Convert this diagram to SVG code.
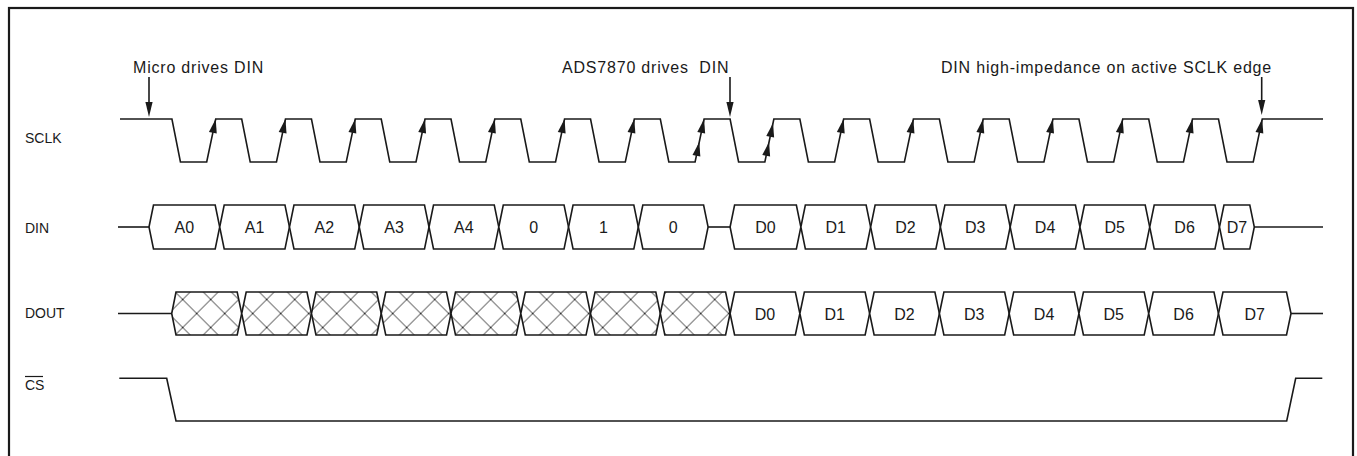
<svg xmlns="http://www.w3.org/2000/svg" xmlns:xlink="http://www.w3.org/1999/xlink" width="1357" height="456" viewBox="0 0 1357 456">
<style>
.w{fill:none;stroke:#1a1a1a;stroke-width:1.6;stroke-linejoin:miter}
.bx{fill:#fff;stroke:#1a1a1a;stroke-width:1.6}
.hx{fill:url(#hatch);stroke:#1a1a1a;stroke-width:1.6}
.ah{fill:#1a1a1a;stroke:none}
text{font-family:"Liberation Sans",Arial,Helvetica,sans-serif;font-size:16px;fill:#1a1a1a}
.c{text-anchor:middle}
.rl{font-size:14px}
.an{letter-spacing:0.8px}
</style>
<defs>
<pattern id="hatch" patternUnits="userSpaceOnUse" x="182.7" y="299.5" width="28" height="28">
<rect width="28" height="28" fill="#fff"/>
<path d="M0,0 L28,28 M28,0 L0,28" stroke="#333" stroke-width="1"/>
</pattern>
<path id="ahu" d="M0,0 L-4,14 L4,14 Z"/>
<path id="ahd" d="M0,0 L-3.6,-15 L3.6,-15 Z"/>
</defs>
<rect x="9" y="8" width="1344" height="460" fill="#fff" stroke="#1a1a1a" stroke-width="2.2"/>

<g id="labels">
<text class="rl" x="25" y="143">SCLK</text>
<text class="rl" x="25" y="233">DIN</text>
<text class="rl" x="25" y="318">DOUT</text>
<text class="rl" x="25" y="390">CS</text>
<line x1="25" y1="376.5" x2="43" y2="376.5" stroke="#1a1a1a" stroke-width="1.2"/>
</g>

<g id="annotations">
<text class="an" x="133" y="73">Micro drives DIN</text>
<text class="an" x="562" y="73" xml:space="preserve">ADS7870 drives  DIN</text>
<text class="an" x="941" y="73">DIN high-impedance on active SCLK edge</text>
<line class="w" x1="149" y1="77" x2="149" y2="104"/>
<use href="#ahd" class="ah" transform="translate(149,117)"/>
<line class="w" x1="730" y1="77" x2="730" y2="104"/>
<use href="#ahd" class="ah" transform="translate(730,117)"/>
<line class="w" x1="1261.7" y1="77" x2="1261.7" y2="102"/>
<use href="#ahd" class="ah" transform="translate(1261.7,115)"/>
</g>

<g id="sclk">
<path class="w" d="M120,119 L171.93,119 L180.43,162 L206.70,162 L215.70,119 L241.70,119 L250.20,162 L276.47,162 L285.47,119 L311.47,119 L319.97,162 L346.24,162 L355.24,119 L381.24,119 L389.74,162 L416.01,162 L425.01,119 L451.01,119 L459.51,162 L485.78,162 L494.78,119 L520.78,119 L529.28,162 L555.55,162 L564.55,119 L590.55,119 L599.05,162 L625.32,162 L634.32,119 L660.32,119 L668.82,162 L695.09,162 L704.09,119 L730.09,119 L738.59,162 L764.86,162 L773.86,119 L799.86,119 L808.36,162 L834.63,162 L843.63,119 L869.63,119 L878.13,162 L904.40,162 L913.40,119 L939.40,119 L947.90,162 L974.17,162 L983.17,119 L1009.17,119 L1017.67,162 L1043.94,162 L1052.94,119 L1078.94,119 L1087.44,162 L1113.71,162 L1122.71,119 L1148.71,119 L1157.21,162 L1183.48,162 L1192.48,119 L1218.48,119 L1226.98,162 L1253.25,162 L1262.25,119 L1323,119"/>
<g class="ah">
<use href="#ahu" transform="translate(215.70,119) rotate(11.8)"/>
<use href="#ahu" transform="translate(285.47,119) rotate(11.8)"/>
<use href="#ahu" transform="translate(355.24,119) rotate(11.8)"/>
<use href="#ahu" transform="translate(425.01,119) rotate(11.8)"/>
<use href="#ahu" transform="translate(494.78,119) rotate(11.8)"/>
<use href="#ahu" transform="translate(564.55,119) rotate(11.8)"/>
<use href="#ahu" transform="translate(634.32,119) rotate(11.8)"/>
<use href="#ahu" transform="translate(704.09,119) rotate(11.8)"/>
<use href="#ahu" transform="translate(699.29,142) rotate(11.8)"/>
<use href="#ahu" transform="translate(773.06,123) rotate(11.8)"/>
<use href="#ahu" transform="translate(769.06,142) rotate(11.8)"/>
<use href="#ahu" transform="translate(843.63,119) rotate(11.8)"/>
<use href="#ahu" transform="translate(913.40,119) rotate(11.8)"/>
<use href="#ahu" transform="translate(983.17,119) rotate(11.8)"/>
<use href="#ahu" transform="translate(1052.94,119) rotate(11.8)"/>
<use href="#ahu" transform="translate(1122.71,119) rotate(11.8)"/>
<use href="#ahu" transform="translate(1192.48,119) rotate(11.8)"/>
<use href="#ahu" transform="translate(1262.25,119) rotate(11.8)"/>
</g>
</g>

<g id="din">
<line class="w" x1="118" y1="227" x2="149" y2="227"/>
<line class="w" x1="708.09" y1="227" x2="730.09" y2="227"/>
<line class="w" x1="1254.3" y1="227" x2="1323" y2="227"/>
<polygon class="bx" points="149,227 153.5,205 215.2,205 219.7,227 215.2,249 153.5,249"/>
<polygon class="bx" points="219.7,227 224.2,205 284.97,205 289.47,227 284.97,249 224.2,249"/>
<polygon class="bx" points="289.47,227 293.97,205 354.74,205 359.24,227 354.74,249 293.97,249"/>
<polygon class="bx" points="359.24,227 363.74,205 424.51,205 429.01,227 424.51,249 363.74,249"/>
<polygon class="bx" points="429.01,227 433.51,205 494.28,205 498.78,227 494.28,249 433.51,249"/>
<polygon class="bx" points="498.78,227 503.28,205 564.05,205 568.55,227 564.05,249 503.28,249"/>
<polygon class="bx" points="568.55,227 573.05,205 633.82,205 638.32,227 633.82,249 573.05,249"/>
<polygon class="bx" points="638.32,227 642.82,205 703.59,205 708.09,227 703.59,249 642.82,249"/>
<polygon class="bx" points="730.09,227 734.59,205 796.36,205 800.86,227 796.36,249 734.59,249"/>
<polygon class="bx" points="800.86,227 805.36,205 866.13,205 870.63,227 866.13,249 805.36,249"/>
<polygon class="bx" points="870.63,227 875.13,205 935.90,205 940.40,227 935.90,249 875.13,249"/>
<polygon class="bx" points="940.40,227 944.90,205 1005.67,205 1010.17,227 1005.67,249 944.90,249"/>
<polygon class="bx" points="1010.17,227 1014.67,205 1075.44,205 1079.94,227 1075.44,249 1014.67,249"/>
<polygon class="bx" points="1079.94,227 1084.44,205 1145.21,205 1149.71,227 1145.21,249 1084.44,249"/>
<polygon class="bx" points="1149.71,227 1154.21,205 1214.98,205 1219.48,227 1214.98,249 1154.21,249"/>
<polygon class="bx" points="1219.48,227 1223.98,205 1249.8,205 1254.3,227 1249.8,249 1223.98,249"/>
<g class="c">
<text x="184.35" y="233">A0</text>
<text x="254.6" y="233">A1</text>
<text x="324.4" y="233">A2</text>
<text x="394.1" y="233">A3</text>
<text x="463.9" y="233">A4</text>
<text x="533.7" y="233">0</text>
<text x="603.4" y="233">1</text>
<text x="673.2" y="233">0</text>
<text x="765.5" y="233">D0</text>
<text x="835.7" y="233">D1</text>
<text x="905.5" y="233">D2</text>
<text x="975.3" y="233">D3</text>
<text x="1045.1" y="233">D4</text>
<text x="1114.8" y="233">D5</text>
<text x="1184.6" y="233">D6</text>
<text x="1236.9" y="233">D7</text>
</g>
</g>

<g id="dout">
<line class="w" x1="118" y1="313.5" x2="171.7" y2="313.5"/>
<line class="w" x1="1291" y1="313.5" x2="1323" y2="313.5"/>
<polygon class="hx" points="171.7,313.5 176,292 237.2,292 241.7,313.5 237.2,335 176,335"/>
<polygon class="hx" points="241.7,313.5 246.2,292 306.97,292 311.47,313.5 306.97,335 246.2,335"/>
<polygon class="hx" points="311.47,313.5 315.97,292 376.74,292 381.24,313.5 376.74,335 315.97,335"/>
<polygon class="hx" points="381.24,313.5 385.74,292 446.51,292 451.01,313.5 446.51,335 385.74,335"/>
<polygon class="hx" points="451.01,313.5 455.51,292 516.28,292 520.78,313.5 516.28,335 455.51,335"/>
<polygon class="hx" points="520.78,313.5 525.28,292 586.05,292 590.55,313.5 586.05,335 525.28,335"/>
<polygon class="hx" points="590.55,313.5 595.05,292 655.82,292 660.32,313.5 655.82,335 595.05,335"/>
<polygon class="hx" points="660.32,313.5 664.82,292 725.59,292 730.09,313.5 725.59,335 664.82,335"/>
<polygon class="bx" points="730.09,313.5 734.59,292 795.36,292 799.86,313.5 795.36,335 734.59,335"/>
<polygon class="bx" points="799.86,313.5 804.36,292 865.13,292 869.63,313.5 865.13,335 804.36,335"/>
<polygon class="bx" points="869.63,313.5 874.13,292 934.90,292 939.40,313.5 934.90,335 874.13,335"/>
<polygon class="bx" points="939.40,313.5 943.90,292 1004.67,292 1009.17,313.5 1004.67,335 943.90,335"/>
<polygon class="bx" points="1009.17,313.5 1013.67,292 1074.44,292 1078.94,313.5 1074.44,335 1013.67,335"/>
<polygon class="bx" points="1078.94,313.5 1083.44,292 1144.21,292 1148.71,313.5 1144.21,335 1083.44,335"/>
<polygon class="bx" points="1148.71,313.5 1153.21,292 1213.98,292 1218.48,313.5 1213.98,335 1153.21,335"/>
<polygon class="bx" points="1218.48,313.5 1222.98,292 1286.5,292 1291,313.5 1286.5,335 1222.98,335"/>
<g class="c">
<text x="765" y="319.5">D0</text>
<text x="834.7" y="319.5">D1</text>
<text x="904.5" y="319.5">D2</text>
<text x="974.3" y="319.5">D3</text>
<text x="1044.1" y="319.5">D4</text>
<text x="1113.8" y="319.5">D5</text>
<text x="1183.6" y="319.5">D6</text>
<text x="1254.7" y="319.5">D7</text>
</g>
</g>

<g id="cs">
<path class="w" d="M119.3,378.3 L166.7,378.3 L176,421 L1286.7,421 L1295.7,378.3 L1322.3,378.3"/>
</g>
</svg>
